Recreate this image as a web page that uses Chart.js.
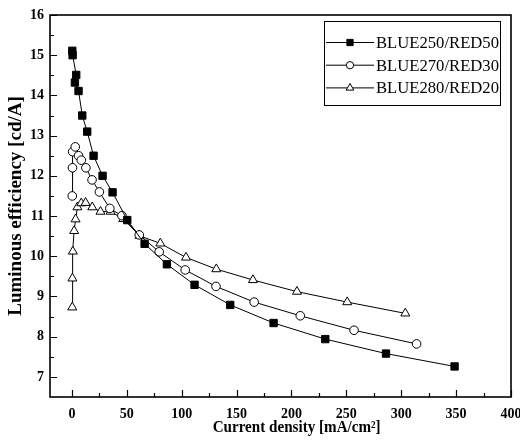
<!DOCTYPE html>
<html>
<head>
<meta charset="utf-8">
<script src="https://cdn.jsdelivr.net/npm/chart.js@4/dist/chart.umd.min.js"></script>
<style>
  html, body { margin: 0; padding: 0; background: #fff; }
  #wrap { width: 520px; height: 442px; }
</style>
</head>
<body>
<div id="wrap"><canvas id="c" width="520" height="442"></canvas></div>
<script>
// ---- data ----
const seriesNames = ['BLUE250/RED50', 'BLUE270/RED30', 'BLUE280/RED20'];

const blue250X = [0.3, 0.6, 3.9, 2.7, 6.0, 9.4, 13.9, 19.7, 27.9, 37.0, 50.4, 66.2, 86.5, 111.7, 144.2, 183.7, 230.8, 286.1, 348.6];
const blue250Y = [15.11, 15.0, 14.51, 14.32, 14.11, 13.5, 13.1, 12.5, 12.0, 11.59, 10.9, 10.31, 9.80, 9.29, 8.79, 8.34, 7.94, 7.58, 7.26];

const blue270X = [0.3, 0.5, 0.6, 3.0, 6.0, 8.5, 12.7, 18.3, 25.0, 34.5, 45.5, 61.3, 79.5, 103.2, 131.2, 166.0, 208.0, 257.0, 314.0];
const blue270Y = [11.5, 12.2, 12.6, 12.72, 12.5, 12.39, 12.2, 11.9, 11.6, 11.19, 11.01, 10.53, 10.11, 9.66, 9.25, 8.86, 8.52, 8.16, 7.82];

const blue280X = [0.3, 0.4, 0.8, 2.0, 3.3, 5.0, 8.5, 12.4, 18.5, 26.0, 35.2, 46.7, 61.6, 80.5, 103.9, 131.5, 164.9, 205.0, 250.8, 303.7];
const blue280Y = [8.73, 9.45, 10.12, 10.63, 10.92, 11.22, 11.32, 11.33, 11.22, 11.11, 11.11, 10.93, 10.51, 10.32, 9.97, 9.68, 9.41, 9.12, 8.86, 8.58];

const xTickValues = [0, 50, 100, 150, 200, 250, 300, 350, 400];
const xMinorValues = [25, 75, 125, 175, 225, 275, 325, 375];
const yTickValues = [7, 8, 9, 10, 11, 12, 13, 14, 15, 16];
const yMinorValues = [7.5, 8.5, 9.5, 10.5, 11.5, 12.5, 13.5, 14.5, 15.5];

const xTitle = 'Current density [mA/cm\u00B2]';
const yTitle = 'Luminous efficiency [cd/A]';

// ---- build ----
function pts(xs, ys) { return xs.map((x, i) => ({ x: x, y: ys[i] })); }

const styles = [
  { pointStyle: 'rect', radius: 5.2, bg: '#000' },
  { pointStyle: 'circle', radius: 4.3, bg: '#fff' },
  { pointStyle: 'triangle', radius: 5.2, bg: '#fff' }
];
const seriesData = [pts(blue250X, blue250Y), pts(blue270X, blue270Y), pts(blue280X, blue280Y)];

const datasets = seriesData.map((d, i) => ({
  label: seriesNames[i],
  data: d,
  showLine: true,
  borderColor: '#000',
  borderWidth: 1,
  pointStyle: styles[i].pointStyle,
  pointRadius: styles[i].radius,
  pointHoverRadius: styles[i].radius,
  pointBackgroundColor: styles[i].bg,
  pointBorderColor: '#000',
  pointBorderWidth: 1,
  tension: 0,
  fill: false
}));

const SERIF = '"Liberation Serif", "Times New Roman", serif';

function condensedText(ctx, text, x, y, targetWidth, align) {
  const w = ctx.measureText(text).width;
  const k = Math.min(1, targetWidth / w);
  ctx.save();
  ctx.translate(x, y);
  ctx.scale(k, 1);
  ctx.textAlign = align;
  ctx.fillText(text, 0, 0);
  ctx.restore();
}

const frameAndTicks = {
  id: 'frameAndTicks',
  afterDatasetsDraw(chart) {
    const ctx = chart.ctx;
    const a = chart.chartArea;
    const xs = chart.scales.x, ys = chart.scales.y;
    ctx.save();
    ctx.strokeStyle = '#000';
    ctx.lineWidth = 1.2;
    ctx.beginPath();
    xTickValues.forEach(v => { const p = Math.round(xs.getPixelForValue(v)) + 0.5; ctx.moveTo(p, a.bottom); ctx.lineTo(p, a.bottom - 7); });
    xMinorValues.forEach(v => { const p = Math.round(xs.getPixelForValue(v)) + 0.5; ctx.moveTo(p, a.bottom); ctx.lineTo(p, a.bottom - 4); });
    yTickValues.forEach(v => { const p = Math.round(ys.getPixelForValue(v)) + 0.5; ctx.moveTo(a.left, p); ctx.lineTo(a.left + 7, p); });
    yMinorValues.forEach(v => { const p = Math.round(ys.getPixelForValue(v)) + 0.5; ctx.moveTo(a.left, p); ctx.lineTo(a.left + 4, p); });
    ctx.stroke();
    ctx.lineWidth = 1.6;
    ctx.strokeRect(a.left, a.top, a.right - a.left, a.bottom - a.top);

    // x axis title, placed a little right of centre as in the reference
    ctx.fillStyle = '#000';
    ctx.font = 'bold 16.5px ' + SERIF;
    ctx.textBaseline = 'middle';
    condensedText(ctx, xTitle, a.left + (a.right - a.left) * 0.535, a.bottom + 31, 168, 'center');

    // legend box
    const bx = a.right - 187, by = a.top + 6, bw = 176, bh = 84;
    ctx.lineWidth = 1;
    ctx.strokeRect(bx + 0.5, by + 0.5, bw, bh);
    ctx.font = '17.5px ' + SERIF;
    chart.data.datasets.forEach((ds, i) => {
      const y = by + 21.5 + i * 22.7;
      ctx.beginPath();
      ctx.lineWidth = 1;
      ctx.strokeStyle = '#000';
      ctx.moveTo(bx + 2, y); ctx.lineTo(bx + 50, y);
      ctx.stroke();
      ctx.fillStyle = ds.pointBackgroundColor;
      Chart.helpers.drawPoint(ctx, { pointStyle: ds.pointStyle, radius: ds.pointRadius * 0.85, borderWidth: 1 }, bx + 26, y);
      ctx.fillStyle = '#000';
      condensedText(ctx, ds.label, bx + 52, y + 1, 123, 'left');
    });
    ctx.restore();
  }
};

new Chart(document.getElementById('c'), {
  type: 'line',
  data: { datasets: datasets },
  options: {
    responsive: false,
    devicePixelRatio: 1,
    animation: false,
    layout: { padding: { top: 15, right: 9, left: 0, bottom: 0 } },
    plugins: { legend: { display: false }, tooltip: { enabled: false } },
    scales: {
      x: {
        type: 'linear',
        min: -20, max: 400,
        grid: { display: false, drawTicks: false },
        border: { display: false },
        afterBuildTicks: s => { s.ticks = xTickValues.map(v => ({ value: v })); },
        afterFit: s => { s.height = 45; s.paddingLeft = 0; s.paddingRight = 0; },
        ticks: {
          padding: 9,
          color: '#000',
          maxRotation: 0,
          autoSkip: false,
          font: { family: SERIF, size: 14, weight: 'bold' }
        },
        title: { display: false }
      },
      y: {
        type: 'linear',
        min: 6.5, max: 16,
        grid: { display: false, drawTicks: false },
        border: { display: false },
        afterBuildTicks: s => { s.ticks = yTickValues.map(v => ({ value: v })); },
        afterFit: s => { s.width = 50; s.paddingTop = 0; s.paddingBottom = 0; },
        ticks: {
          padding: 6,
          color: '#000',
          autoSkip: false,
          font: { family: SERIF, size: 14, weight: 'bold' }
        },
        title: {
          display: true,
          text: yTitle,
          color: '#000',
          padding: { top: 5, bottom: 0 },
          font: { family: SERIF, size: 19, weight: 'bold', lineHeight: 1.2 }
        }
      }
    }
  },
  plugins: [frameAndTicks]
});
</script>
</body>
</html>
